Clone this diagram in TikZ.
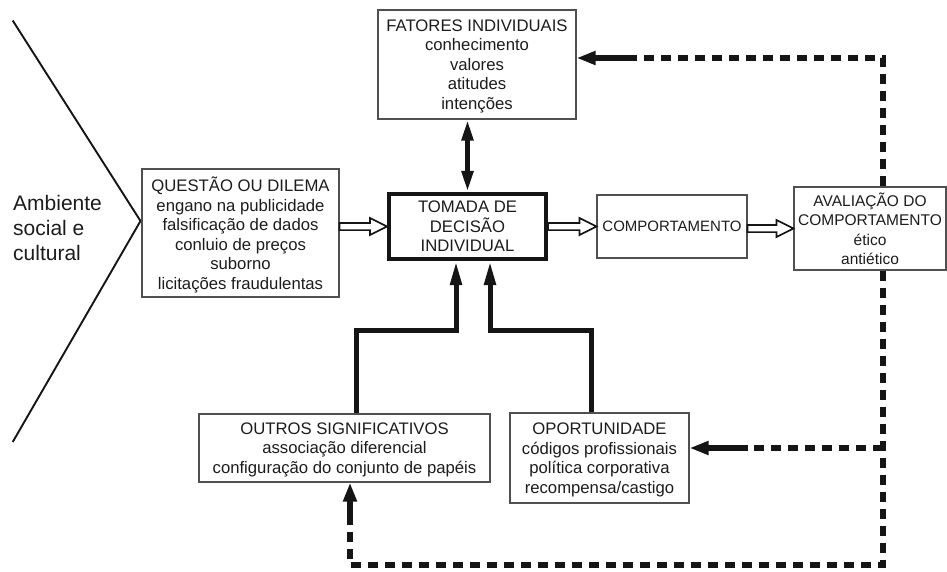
\documentclass[tikz,border=0pt]{standalone}
\usepackage{fontspec}
\setmainfont{Liberation Sans}
\usetikzlibrary{arrows.meta,calc}
\definecolor{ink}{HTML}{151515}
\definecolor{txt}{HTML}{1C1C1C}
\definecolor{frame}{HTML}{505050}

% hollow block arrow from the first anchor to the second (horizontal)
\newcommand\hollowarrow[2]{%
  \draw[hollowarr] let \p1=(#1), \p2=(#2) in
    (\x1,\y2+3.6pt) -- (\x2-17pt,\y2+3.6pt) -- (\x2-17pt,\y2+8.5pt) -- (\x2,\y2)
    -- (\x2-17pt,\y2-8.5pt) -- (\x2-17pt,\y2-3.6pt) -- (\x1,\y2-3.6pt) -- cycle;}

\begin{document}
\begin{tikzpicture}[x=1pt,y=-1pt,
  % the text depth sets how far the text block sits below the middle of its frame
  box/.style={draw=frame, line width=1.1pt, fill=white, inner sep=0pt, align=center,
    text=txt, font=\fontsize{16.7}{19.5}\selectfont, text depth=#1},
  box/.default=-9pt,
  core/.style={box=-9pt, draw=ink, line width=4pt},
  hollowarr/.style={draw=ink, line width=1.7pt, fill=white, line join=miter},
  solidarr/.style={draw=ink, line width=5pt, line join=miter,
    -{Triangle[length=24pt,width=11pt]}},
  twoway/.style={draw=ink, line width=5pt,
    {Triangle[length=21pt,width=11pt]}-{Triangle[length=21pt,width=11pt]}},
  fbline/.style={draw=ink, line width=6pt, dash pattern=on 10pt off 7pt},
  fbhead/.style={draw=ink, line width=6pt, -{Triangle[length=19pt,width=13pt]}},
]
\path[use as bounding box] (0,0) rectangle (947,572);

% social and cultural environment
\draw[ink, line width=1.9pt] (12.7,20.5) -- (140.5,221) -- (12.7,442);
\node[anchor=west, align=left, text=txt, inner sep=0pt,
      font=\fontsize{21}{25}\selectfont] (amb) at (13,228)
  {Ambiente\\social e\\cultural};

% boxes
\node[box=-8pt, minimum width=197pt, minimum height=128pt] (q) at (240.5,233)
  {QUESTÃO OU DILEMA\\engano na publicidade\\falsificação de dados\\conluio de preços\\suborno\\licitações fraudulentas};
\node[box=-15pt, minimum width=198pt, minimum height=109pt] (f) at (477,64.5)
  {FATORES INDIVIDUAIS\\conhecimento\\valores\\atitudes\\intenções};
\node[core, minimum width=157pt, minimum height=65pt] (t) at (467.5,226.5)
  {TOMADA DE\\DECISÃO\\INDIVIDUAL};
\node[box=-10pt, minimum width=150pt, minimum height=63pt,
      font=\fontsize{15}{19.5}\selectfont] (c) at (672,226.5) {COMPORTAMENTO};
\node[box=-13pt, minimum width=152pt, minimum height=83pt,
      font=\fontsize{15.5}{19.5}\selectfont] (a) at (870,228.5)
  {AVALIAÇÃO DO\\COMPORTAMENTO\\ético\\antiético};
\node[box=-10.5pt, minimum width=291pt, minimum height=68pt] (o) at (344.5,448)
  {OUTROS SIGNIFICATIVOS\\associação diferencial\\configuração do conjunto de papéis};
\node[box=-11pt, minimum width=179pt, minimum height=90pt] (p) at (599.5,458)
  {OPORTUNIDADE\\códigos profissionais\\política corporativa\\recompensa/castigo};

% main flow
\hollowarrow{q.east}{t.west}
\hollowarrow{t.east}{c.west}
\hollowarrow{c.east}{a.west}

% individual factors <-> decision
\draw[twoway] (t.north) -- (t.north |- f.south);

% influences from below
\coordinate (ob) at (356,330);
\coordinate (tl) at (456,330);
\coordinate (tr) at (490,330);
\coordinate (pb) at (591,330);
\draw[solidarr] (o.north -| ob) -- (ob) -- (tl) -- (t.south -| tl);
\draw[solidarr] (p.north -| pb) -- (pb) -- (tr) -- (t.south -| tr);

% feedback loops
\coordinate (fbTop) at (883,58);
\coordinate (fbA) at (633,58);
\coordinate (fbMid) at (883,448);
\coordinate (fbC) at (748,448);
\coordinate (fbBot) at (883,565);
\coordinate (fbLeft) at (350,565);
\coordinate (fbB) at (350,515);
\draw[fbline] (a.north -| fbTop) -- (fbTop) -- (fbA);
\draw[fbhead] (fbA) -- (f.east |- fbA);
\draw[fbline] (a.south -| fbBot) -- (fbBot) -- (fbLeft) -- (fbB);
\draw[fbhead] (fbB) -- (o.south -| fbB);
\draw[fbline] (fbMid) -- (fbC);
\draw[fbhead] (fbC) -- (p.east |- fbC);
\end{tikzpicture}
\end{document}
